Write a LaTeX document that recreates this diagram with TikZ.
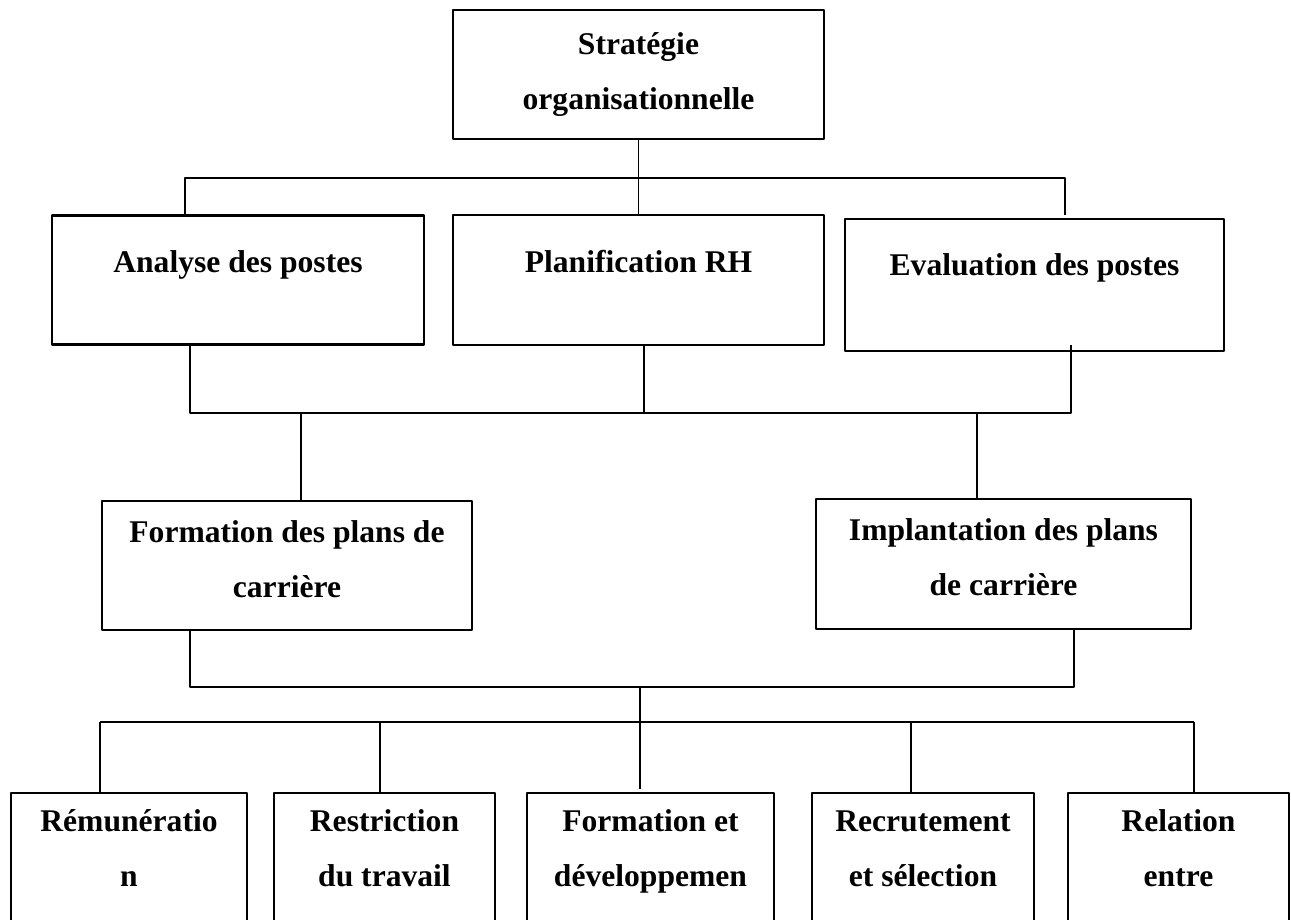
\documentclass[tikz,border=0pt]{standalone}
\usepackage{fontspec}
\setmainfont{Liberation Serif}
\begin{document}
\begin{tikzpicture}[x=1pt,y=-1pt,line join=round,
	boite/.style={draw,line width=2.8pt,inner sep=0pt,outer sep=0pt,align=center,font=\fontsize{31.6}{55}\selectfont\bfseries},
	lien/.style={line width=1.2pt}]
				\useasboundingbox (0,0) rectangle (1291,919);
				\clip (0,0) rectangle (1291,919);
				% niveau 1 et 2
				\node[boite,minimum width=371,minimum height=129] (stra) at (638.5,74.5) {Stratégie\\organisationnelle};
				\node[boite,minimum width=372,minimum height=129,text height=22pt,text depth=38pt] (ana) at (238,280) {Analyse des postes};
				\node[boite,minimum width=371,minimum height=130,text height=22pt,text depth=38pt] (planif) at (638.5,280) {Planification RH};
				\node[boite,minimum width=379,minimum height=132,text height=22pt,text depth=42pt] (eval) at (1034.5,285) {Evaluation des postes};
				% plans de carriere
				\node[boite,minimum width=370,minimum height=129,text depth=12pt] (form) at (287,565.5) {Formation des plans de\\carrière};
				\node[boite,minimum width=375,minimum height=130,text depth=14pt] (impl) at (1003.5,564) {Implantation des plans\\de carrière};
				% activites RH
				\node[boite,anchor=north,minimum width=236,minimum height=166] (r1) at (129,793) {Rémunératio\\n\\\mbox{}};
				\node[boite,anchor=north,minimum width=221,minimum height=166] (r2) at (384.5,793) {Restriction\\du travail\\\mbox{}};
				\node[boite,anchor=north,minimum width=247,minimum height=166] (r3) at (650.5,793) {Formation et\\développemen\\\mbox{}};
				\node[boite,anchor=north,minimum width=222,minimum height=166] (r4) at (923,793) {Recrutement\\et sélection\\\mbox{}};
				\node[boite,anchor=north,minimum width=221,minimum height=166] (r5) at (1178.5,793) {Relation\\entre\\\mbox{}};
				% liaisons
				\coordinate (g1) at (185,178); \coordinate (d1) at (1065,178); \coordinate (d1b) at (1065,215);
				\draw[lien] (stra) -- (planif);
				\draw[lien] (ana.north -| g1) -- (g1) -- (d1) -- (d1b);
				\coordinate (g2) at (190,413); \coordinate (d2) at (1071,413); \coordinate (m2) at (644,413);
				\coordinate (f2) at (301,413); \coordinate (i2) at (977,413);
				\draw[lien] (ana.south -| g2) -- (g2) -- (d2) -- (d2 |- ana.south);
				\draw[lien] (planif.south -| m2) -- (m2);
				\draw[lien] (f2) -- (form.north -| f2);
				\draw[lien] (i2) -- (impl.north -| i2);
				\coordinate (g3) at (190,687); \coordinate (d3) at (1074,687);
				\coordinate (m3) at (640,687); \coordinate (m4) at (640,789);
				\draw[lien] (form.south -| g3) -- (g3) -- (d3) -- (impl.south -| d3);
				\draw[lien] (m3) -- (m4);
				\coordinate (g4) at (100,722); \coordinate (d4) at (1194,722);
				\draw[lien] (g4) -- (d4);
				\foreach \n/\x in {r1/100,r2/380,r4/911,r5/1194}{
					\coordinate (c\n) at (\x,722);
					\draw[lien] (c\n) -- (\n.north -| c\n);
				}
				%\draw[lien] (r3.north) -- (m4);
		\end{tikzpicture}
\end{document}
